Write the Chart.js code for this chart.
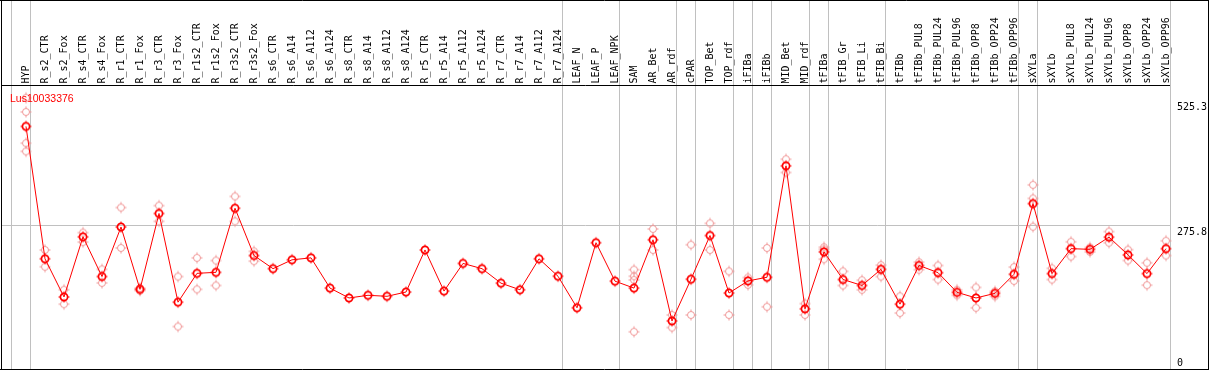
<!DOCTYPE html>
<html>
<head>
<meta charset="utf-8">
<script src="https://cdn.jsdelivr.net/npm/chart.js@4"></script>
<style>
  body { margin: 0; background: #fff; }
  canvas { display: block; }
</style>
</head>
<body>
<canvas id="Chart" width="1209" height="370"></canvas>
<script>
// Gene shown in the chart
var geneName = 'Lus10033376';

// Sample names (x axis)
var categories = [
    'HYP', 'R_s2_CTR', 'R_s2_Fox', 'R_s4_CTR', 'R_s4_Fox', 'R_r1_CTR', 'R_r1_Fox',
    'R_r3_CTR', 'R_r3_Fox', 'R_r1s2_CTR', 'R_r1s2_Fox', 'R_r3s2_CTR', 'R_r3s2_Fox',
    'R_s6_CTR', 'R_s6_A14', 'R_s6_A112', 'R_s6_A124', 'R_s8_CTR', 'R_s8_A14',
    'R_s8_A112', 'R_s8_A124', 'R_r5_CTR', 'R_r5_A14', 'R_r5_A112', 'R_r5_A124',
    'R_r7_CTR', 'R_r7_A14', 'R_r7_A112', 'R_r7_A124', 'LEAF_N', 'LEAF_P', 'LEAF_NPK',
    'SAM', 'AR_Bet', 'AR_rdf', 'cPAR', 'TOP_Bet', 'TOP_rdf', 'iFIBa', 'iFIBb',
    'MID_Bet', 'MID_rdf', 'tFIBa', 'tFIB_Gr', 'tFIB_Li', 'tFIB_Bi', 'tFIBb',
    'tFIBb_PUL8', 'tFIBb_PUL24', 'tFIBb_PUL96', 'tFIBb_OPP8', 'tFIBb_OPP24', 'tFIBb_OPP96',
    'sXYLa', 'sXYLb', 'sXYLb_PUL8', 'sXYLb_PUL24', 'sXYLb_PUL96', 'sXYLb_OPP8',
    'sXYLb_OPP24', 'sXYLb_OPP96'
];

// Mean expression per sample
var means = [
    473.7, 210.3, 134.4, 254.0, 175.0, 273.6, 149.5,
    300.5, 124.0, 181.4, 183.4, 310.9, 216.8,
    190.7, 208.3, 212.2, 152.0, 132.4, 137.7,
    135.7, 144.2, 227.9, 146.1, 201.1, 190.7,
    161.8, 148.7, 210.3, 175.6, 112.8, 242.3, 165.8,
    152.0, 248.1, 86.7, 169.7, 256.6, 142.2, 166.3, 173.6,
    395.3, 110.8, 224.0, 169.1, 157.3, 189.3, 120.1,
    197.1, 182.8, 143.6, 132.4, 141.6, 179.5,
    320.1, 180.9, 230.5, 229.1, 253.4, 218.1,
    180.9, 230.5
];

// Single replicate values per sample
var replicates = [
    [530.6, 502.6, 440.4, 424.1], [227.9, 194.6], [148.7, 120.1], [262.5, 243.6],
    [189.3, 162.4], [312.3, 231.9], [152.0, 147.1], [316.2, 284.8], [175.0, 75.5],
    [212.2, 149.5], [206.9, 157.3], [334.5, 284.8], [225.2, 205.6],
    [], [], [], [], [], [], [], [], [], [], [], [], [], [], [], [], [], [], [],
    [188.7, 175.6, 168.3, 65.1], [269.7, 227.9], [98.5, 73.6], [238.3, 98.5],
    [280.9, 227.9], [185.4, 98.5], [173.0, 158.5], [231.9, 114.8],
    [408.4, 382.1], [121.2, 98.5], [233.4, 229.1, 209.5], [185.4, 157.3],
    [167.7, 148.7], [197.7, 175.0], [135.7, 102.4],
    [203.6, 188.7], [197.1, 169.1], [148.7, 137.7], [153.4, 112.8], [145.6, 135.7],
    [193.8, 166.3], [357.4, 330.5, 274.2], [191.3, 169.1],
    [244.2, 214.8], [233.0, 224.0], [264.4, 242.3], [228.5, 207.0],
    [202.4, 157.9], [246.2, 216.8]
];

// Axis tick values (right side)
var yTicks = [0, 275.8, 525.3];

// Index of the last sample of each group (-1 = before the first)
var groupEnds = [-1, 0, 28, 31, 34, 35, 37, 38, 39, 41, 42, 45, 52, 53, 60];

var repPoints = [];
replicates.forEach(function (vals, i) {
    vals.forEach(function (v) { repPoints.push({ x: categories[i], y: v }); });
});

// small circle markers with tiny tick marks
function makeMarker(color, lw, r) {
    var c = document.createElement('canvas');
    c.width = 14; c.height = 14;
    var g = c.getContext('2d');
    g.strokeStyle = color;
    g.lineWidth = lw;
    g.beginPath();
    g.arc(7, 7, r, 0, Math.PI * 2);
    g.stroke();
    g.lineWidth = 1;
    g.beginPath();
    g.moveTo(7, 1.5); g.lineTo(7, 3);
    g.moveTo(7, 11); g.lineTo(7, 12.5);
    g.moveTo(1.5, 7); g.lineTo(3, 7);
    g.moveTo(11, 7); g.lineTo(12.5, 7);
    g.stroke();
    return c;
}
var meanMarker = makeMarker('#ff0000', 1.7, 3.6);
var repMarker = makeMarker('rgb(240,150,150)', 1, 3.5);

var monoFont = '10px "DejaVu Sans Mono"';

var framePlugin = {
    id: 'frame',
    beforeDraw: function (chart) {
        var ctx = chart.ctx;
        ctx.save();
        ctx.fillStyle = '#ffffff';
        ctx.fillRect(0, 0, chart.width, chart.height);
        ctx.restore();
    },
    beforeDatasetsDraw: function (chart) {
        var ctx = chart.ctx, x = chart.scales.x, y = chart.scales.y;
        ctx.save();
        ctx.strokeStyle = '#c0c0c0';
        ctx.lineWidth = 1;
        ctx.beginPath();
        groupEnds.forEach(function (i) {
            var px = Math.floor(x.getPixelForValue(i) + 4.5) + 0.5;
            ctx.moveTo(px, 0);
            ctx.lineTo(px, 369);
        });
        var gy = Math.floor(y.getPixelForValue(yTicks[1])) + 0.5;
        ctx.moveTo(1, gy);
        ctx.lineTo(1170, gy);
        ctx.stroke();

        // black frame
        ctx.strokeStyle = '#000000';
        ctx.beginPath();
        ctx.moveTo(0, 0.5); ctx.lineTo(1209, 0.5);
        ctx.moveTo(1.5, 0); ctx.lineTo(1.5, 370);
        ctx.moveTo(1208.5, 0); ctx.lineTo(1208.5, 370);
        ctx.moveTo(0, 369.5); ctx.lineTo(1209, 369.5);
        ctx.moveTo(1, 85.5); ctx.lineTo(1170, 85.5);
        ctx.stroke();
        ctx.restore();
    },
    afterDraw: function (chart) {
        var ctx = chart.ctx, x = chart.scales.x, y = chart.scales.y;
        ctx.save();
        // sample names, rotated
        ctx.fillStyle = '#000000';
        ctx.font = monoFont;
        ctx.textAlign = 'left';
        ctx.textBaseline = 'middle';
        categories.forEach(function (lab, i) {
            ctx.save();
            ctx.translate(x.getPixelForValue(i) + 0.5, 83.5);
            ctx.rotate(-Math.PI / 2);
            ctx.fillText(lab, 0, 0);
            ctx.restore();
        });
        // right axis labels
        ctx.textBaseline = 'top';
        yTicks.forEach(function (v) {
            var py = Math.min(y.getPixelForValue(v) + 1.5, 358);
            ctx.fillText(String(v), 1177, py);
        });
        // gene name
        ctx.fillStyle = '#ff0000';
        ctx.font = '10.5px "Liberation Sans"';
        ctx.textBaseline = 'alphabetic';
        ctx.fillText(geneName, 10, 101.5);
        ctx.restore();
    }
};

var config = {
    type: 'line',
    data: {
        labels: categories,
        datasets: [
            {
                label: 'mean',
                data: means,
                borderColor: '#ff0000',
                borderWidth: 1,
                pointStyle: meanMarker,
                pointRadius: 4,
                tension: 0,
                fill: false,
                clip: false,
                order: 1
            },
            {
                label: 'replicates',
                data: repPoints,
                showLine: false,
                pointStyle: repMarker,
                pointRadius: 4,
                clip: false,
                order: 2
            }
        ]
    },
    options: {
        responsive: false,
        animation: false,
        devicePixelRatio: 1,
        layout: { padding: { left: 26, right: 43, top: 85, bottom: 1 } },
        plugins: { legend: { display: false }, tooltip: { enabled: false } },
        scales: {
            x: { type: 'category', offset: false, display: false },
            y: { min: -0.98, max: 556.1, display: false }
        }
    },
    plugins: [framePlugin]
};

var ctx = document.getElementById('Chart').getContext('2d');
var myChart = new Chart(ctx, config);
</script>
</body>
</html>
